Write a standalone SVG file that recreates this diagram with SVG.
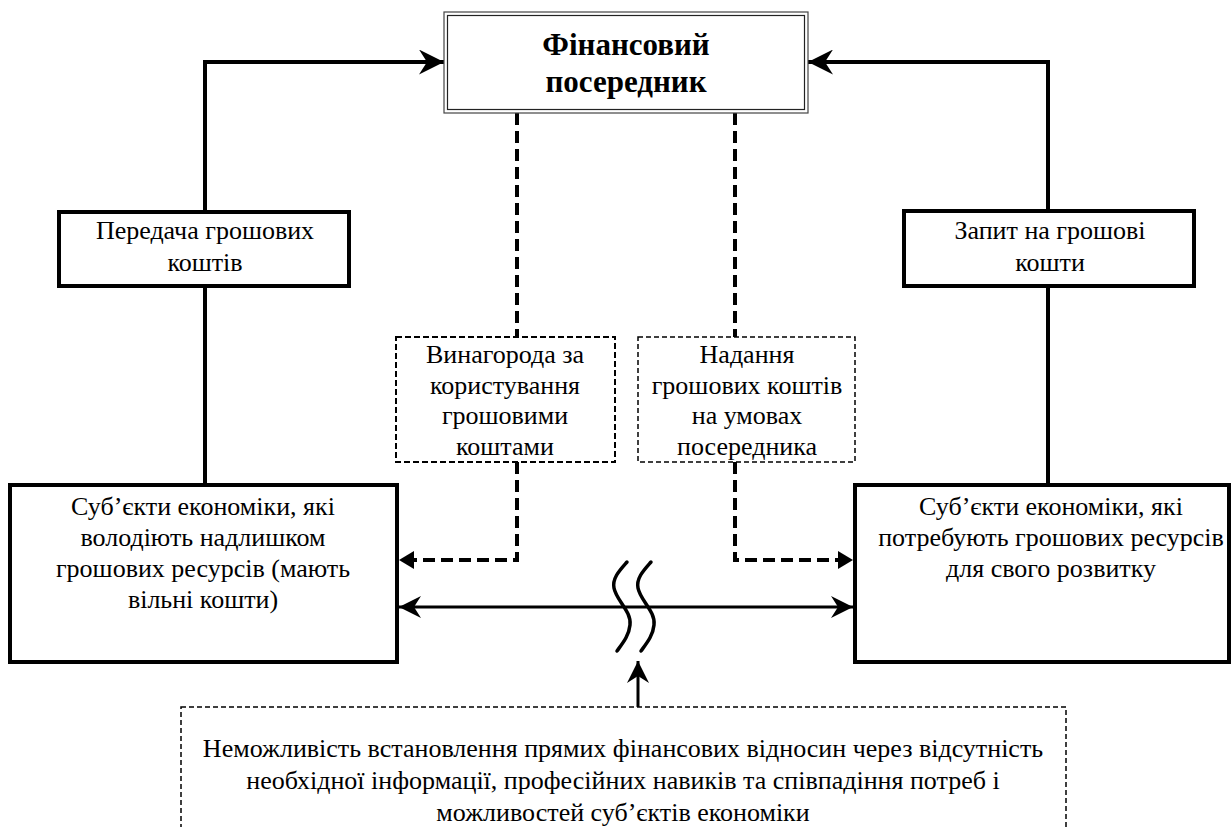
<svg xmlns="http://www.w3.org/2000/svg" width="1232" height="827" viewBox="0 0 1232 827">
<defs>
<marker id="st" viewBox="0 0 25 25" refX="25" refY="12.5" markerWidth="25" markerHeight="25" markerUnits="userSpaceOnUse" orient="auto-start-reverse">
<path d="M0,0 L25,12.5 L0,25 L8,12.5 z" fill="#000"/>
</marker>
<marker id="st2" viewBox="0 0 22 22" refX="22" refY="11" markerWidth="22" markerHeight="22" markerUnits="userSpaceOnUse" orient="auto-start-reverse">
<path d="M0,0 L22,11 L0,22 L7,11 z" fill="#000"/>
</marker>
<marker id="tri" viewBox="0 0 15 18" refX="15" refY="9" markerWidth="15" markerHeight="18" markerUnits="userSpaceOnUse" orient="auto">
<path d="M0,0 L15,9 L0,18 z" fill="#000"/>
</marker>
</defs>
<rect width="1232" height="827" fill="#fff"/>

<g id="connectors" fill="none" stroke="#000">
<polyline stroke-width="4" points="205,212 205,62 444,62" marker-end="url(#st)"/>
<line stroke-width="4" x1="205" y1="286" x2="205" y2="485"/>
<polyline stroke-width="4" points="1048,211 1048,62 808,62" marker-end="url(#st)"/>
<line stroke-width="4" x1="1048" y1="286" x2="1048" y2="485"/>
<line stroke-width="4" stroke-dasharray="12 6" x1="517" y1="113" x2="517" y2="337"/>
<line stroke-width="4" stroke-dasharray="12 6" x1="735" y1="113" x2="735" y2="337"/>
<polyline stroke-width="4" stroke-dasharray="12 6" points="517,462 517,560 399,560" marker-end="url(#tri)"/>
<polyline stroke-width="4" stroke-dasharray="12 6" points="735,462 735,560 853,560" marker-end="url(#tri)"/>
<line x1="399" y1="607" x2="853" y2="607" stroke-width="3" marker-start="url(#st2)" marker-end="url(#st2)"/>
<line x1="638" y1="707" x2="638" y2="661" stroke-width="3" marker-end="url(#st2)"/>
<path stroke-width="3.5" stroke-linecap="round" d="M627,562 C620,570 612,578 614,588 C616,600 632,612 630,625 C629,636 622,644 617,651"/>
<path stroke-width="3.5" stroke-linecap="round" d="M651,562 C644,570 636,578 638,588 C640,600 656,612 654,625 C653,636 646,644 641,651"/>
</g>

<g id="node-intermediary">
<rect x="444" y="12" width="364" height="101" fill="#fff" stroke="#444" stroke-width="1.2"/>
<rect x="447.5" y="15.5" width="357" height="94" fill="none" stroke="#222" stroke-width="1.2"/>
<text font-family="Liberation Serif" font-size="31" font-weight="bold" text-anchor="middle" x="626" y="55">Фінансовий</text>
<text font-family="Liberation Serif" font-size="31" font-weight="bold" text-anchor="middle" x="626" y="92">посередник</text>
</g>

<g id="node-transfer">
<rect x="59" y="212" width="290" height="74" fill="#fff" stroke="#000" stroke-width="4"/>
<text font-family="Liberation Serif" font-size="26" text-anchor="middle" x="205" y="239">Передача грошових</text>
<text font-family="Liberation Serif" font-size="26" text-anchor="middle" x="205" y="271">коштів</text>
</g>

<g id="node-request">
<rect x="904" y="211" width="290" height="75" fill="#fff" stroke="#000" stroke-width="4"/>
<text font-family="Liberation Serif" font-size="26" text-anchor="middle" x="1050" y="239">Запит на грошові</text>
<text font-family="Liberation Serif" font-size="26" text-anchor="middle" x="1050" y="271">кошти</text>
</g>

<g id="node-reward">
<rect x="396" y="337" width="219" height="125" fill="#fff" stroke="#000" stroke-width="2" stroke-dasharray="6 3"/>
<text font-family="Liberation Serif" font-size="26" text-anchor="middle" x="505" y="363">Винагорода за</text>
<text font-family="Liberation Serif" font-size="26" text-anchor="middle" x="505" y="394">користування</text>
<text font-family="Liberation Serif" font-size="26" text-anchor="middle" x="505" y="424">грошовими</text>
<text font-family="Liberation Serif" font-size="26" text-anchor="middle" x="505" y="455">коштами</text>
</g>

<g id="node-provision">
<rect x="638" y="337" width="217" height="125" fill="#fff" stroke="#000" stroke-width="1.5" stroke-dasharray="5 3"/>
<text font-family="Liberation Serif" font-size="26" text-anchor="middle" x="747" y="363">Надання</text>
<text font-family="Liberation Serif" font-size="26" text-anchor="middle" x="747" y="394">грошових коштів</text>
<text font-family="Liberation Serif" font-size="26" text-anchor="middle" x="747" y="424">на умовах</text>
<text font-family="Liberation Serif" font-size="26" text-anchor="middle" x="747" y="455">посередника</text>
</g>

<g id="node-surplus">
<rect x="10" y="485" width="387" height="177" fill="#fff" stroke="#000" stroke-width="4"/>
<text font-family="Liberation Serif" font-size="26" text-anchor="middle" x="203" y="515">Суб’єкти економіки, які</text>
<text font-family="Liberation Serif" font-size="26" text-anchor="middle" x="203" y="546">володіють надлишком</text>
<text font-family="Liberation Serif" font-size="26" text-anchor="middle" x="203" y="577">грошових ресурсів (мають</text>
<text font-family="Liberation Serif" font-size="26" text-anchor="middle" x="203" y="608">вільні кошти)</text>
</g>

<g id="node-deficit">
<rect x="855" y="485" width="374" height="177" fill="#fff" stroke="#000" stroke-width="4"/>
<text font-family="Liberation Serif" font-size="26" text-anchor="middle" x="1051" y="515">Суб’єкти економіки, які</text>
<text font-family="Liberation Serif" font-size="26" text-anchor="middle" x="1051" y="546">потребують грошових ресурсів</text>
<text font-family="Liberation Serif" font-size="26" text-anchor="middle" x="1051" y="577">для свого розвитку</text>
</g>

<g id="node-impossibility">
<rect x="181" y="707" width="885" height="140" fill="#fff" stroke="#000" stroke-width="1.5" stroke-dasharray="5 3"/>
<text font-family="Liberation Serif" font-size="26" text-anchor="middle" x="623" y="757">Неможливість встановлення прямих фінансових відносин через відсутність</text>
<text font-family="Liberation Serif" font-size="26" text-anchor="middle" x="623" y="789">необхідної інформації, професійних навиків та співпадіння потреб і</text>
<text font-family="Liberation Serif" font-size="26" text-anchor="middle" x="623" y="821">можливостей суб’єктів економіки</text>
</g>
</svg>
